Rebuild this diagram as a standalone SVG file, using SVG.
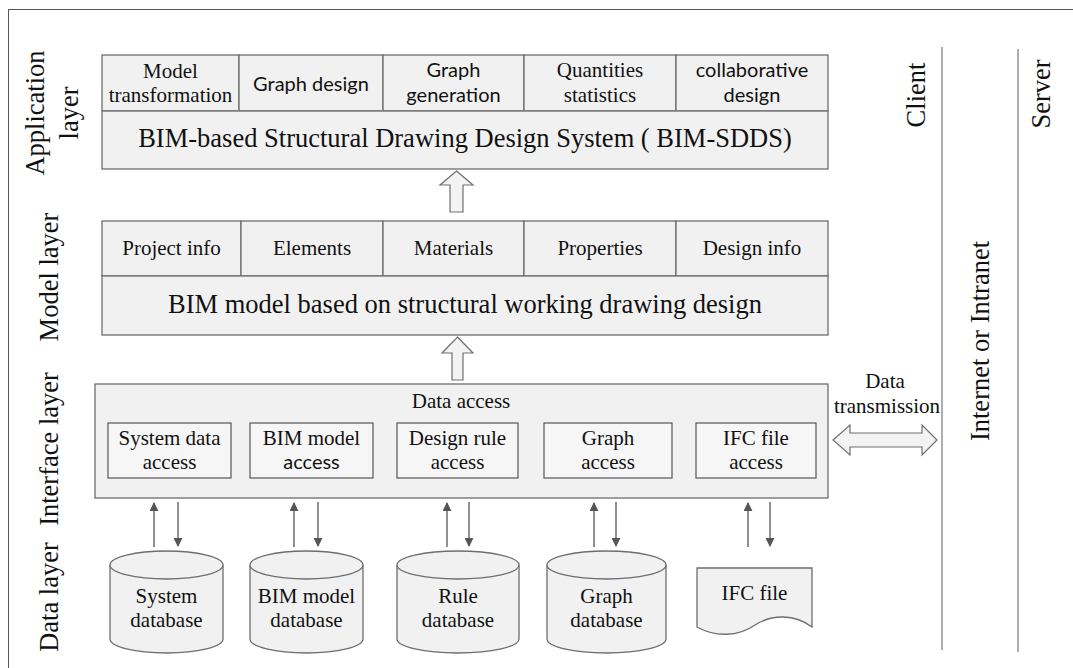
<svg xmlns="http://www.w3.org/2000/svg" width="1073" height="668" viewBox="0 0 1073 668">
<defs>
<style>
.box{fill:#f1f1f1;stroke:#6e6e6e;stroke-width:1.3}
.ibox{fill:#f6f6f6;stroke:#555;stroke-width:1.2}
.blk{fill:#f3f3f3;stroke:#6e6e6e;stroke-width:1.2}
.s{font-family:"Liberation Serif","Times New Roman",Times,serif;fill:#111}
.ss{font-family:Lato,"Liberation Sans",sans-serif;fill:#111;font-size:20px}
.big{font-size:26.5px}
.sm{font-size:21px}
.m{text-anchor:middle}
.vl{stroke:#9a9a9a;stroke-width:1.6;fill:none}
.ar{stroke:#555;stroke-width:1.3;fill:none}
</style>
<marker id="ah" viewBox="0 0 10 10" refX="9" refY="5" markerWidth="9" markerHeight="9" markerUnits="userSpaceOnUse" orient="auto">
<path d="M0,0 L10,5 L0,10 Z" fill="#555"/>
</marker>
</defs>
<rect x="0" y="0" width="1073" height="668" fill="#fff"/>
<rect x="8.5" y="9.5" width="1080" height="680" fill="none" stroke="#555" stroke-width="1"/>

<g id="labels">
<text class="s big m" transform="translate(44,113) rotate(-90)">Application</text>
<text class="s big m" transform="translate(78,113) rotate(-90)">layer</text>
<text class="s big m" transform="translate(58,277) rotate(-90)">Model layer</text>
<text class="s big m" transform="translate(58,449) rotate(-90)">Interface layer</text>
<text class="s big m" transform="translate(58,597) rotate(-90)">Data layer</text>
<text class="s big m" transform="translate(925,95) rotate(-90)">Client</text>
<text class="s big m" transform="translate(1050,94) rotate(-90)">Server</text>
<text class="s big m" transform="translate(989,341) rotate(-90)">Internet or Intranet</text>
</g>

<g id="separators">
<line class="vl" x1="942" y1="47" x2="942" y2="650"/>
<line class="vl" x1="1018" y1="49" x2="1018" y2="652"/>
</g>

<g id="application-layer">
<rect class="box" x="102" y="55" width="137" height="56"/>
<rect class="box" x="239" y="55" width="144" height="56"/>
<rect class="box" x="383" y="55" width="141" height="56"/>
<rect class="box" x="524" y="55" width="152" height="56"/>
<rect class="box" x="676" y="55" width="152" height="56"/>
<rect class="box" x="102" y="111" width="726" height="58"/>
<text class="s sm m" x="170.5" y="78">Model</text>
<text class="s sm m" x="170.5" y="102">transformation</text>
<text class="ss m" x="311" y="91">Graph design</text>
<text class="ss m" x="453.5" y="77">Graph</text>
<text class="ss m" x="453.5" y="102">generation</text>
<text class="s sm m" x="600" y="77">Quantities</text>
<text class="s sm m" x="600" y="102">statistics</text>
<text class="ss m" x="752" y="77">collaborative</text>
<text class="ss m" x="752" y="102">design</text>
<text class="s big m" x="465" y="147">BIM-based Structural Drawing Design System ( BIM-SDDS)</text>
</g>

<g id="model-layer">
<rect class="box" x="102" y="221" width="139" height="55"/>
<rect class="box" x="241" y="221" width="142" height="55"/>
<rect class="box" x="383" y="221" width="141" height="55"/>
<rect class="box" x="524" y="221" width="152" height="55"/>
<rect class="box" x="676" y="221" width="152" height="55"/>
<rect class="box" x="102" y="276" width="726" height="59"/>
<text class="s sm m" x="171.5" y="255">Project info</text>
<text class="s sm m" x="312" y="255">Elements</text>
<text class="s sm m" x="453.5" y="255">Materials</text>
<text class="s sm m" x="600" y="255">Properties</text>
<text class="s sm m" x="752" y="255">Design info</text>
<text class="s big m" x="465" y="313">BIM model based on structural working drawing design</text>
</g>

<g id="interface-layer">
<rect class="box" x="95" y="384" width="733" height="114"/>
<text class="s sm m" x="461" y="408">Data access</text>
<rect class="ibox" x="108" y="423" width="123" height="55"/>
<rect class="ibox" x="250" y="423" width="123" height="55"/>
<rect class="ibox" x="397" y="423" width="121" height="55"/>
<rect class="ibox" x="544" y="423" width="128" height="55"/>
<rect class="ibox" x="696" y="423" width="120" height="55"/>
<text class="s sm m" x="169.5" y="445">System data</text>
<text class="s sm m" x="169.5" y="469">access</text>
<text class="s sm m" x="311.5" y="445">BIM model</text>
<text class="ss m" x="311.5" y="469">access</text>
<text class="s sm m" x="457.5" y="445">Design rule</text>
<text class="s sm m" x="457.5" y="469">access</text>
<text class="s sm m" x="608" y="445">Graph</text>
<text class="s sm m" x="608" y="469">access</text>
<text class="s sm m" x="756" y="445">IFC file</text>
<text class="s sm m" x="756" y="469">access</text>
</g>

<g id="data-transmission">
<text class="s sm m" x="885" y="388">Data</text>
<text class="s sm m" x="887" y="413">transmission</text>
<path class="blk" d="M833,440 L850,425 L850,433 L922,433 L922,425 L937,440 L922,455 L922,447 L850,447 L850,455 Z"/>
</g>

<g id="system-database">
<path class="box" d="M110,565 V639 A56.5,14 0 0 0 223,639 V565"/>
<ellipse class="box" cx="166.5" cy="565" rx="56.5" ry="14"/>
<text class="s sm m" x="166.5" y="603">System</text>
<text class="s sm m" x="166.5" y="627">database</text>
</g>
<g id="bim-model-database">
<path class="box" d="M250,565 V639 A56.5,14 0 0 0 363,639 V565"/>
<ellipse class="box" cx="306.5" cy="565" rx="56.5" ry="14"/>
<text class="s sm m" x="306.5" y="603">BIM model</text>
<text class="s sm m" x="306.5" y="627">database</text>
</g>
<g id="rule-database">
<path class="box" d="M397,565 V639 A61,14 0 0 0 519,639 V565"/>
<ellipse class="box" cx="458" cy="565" rx="61" ry="14"/>
<text class="s sm m" x="458" y="603">Rule</text>
<text class="s sm m" x="458" y="627">database</text>
</g>
<g id="graph-database">
<path class="box" d="M547,565 V639 A59.5,14 0 0 0 666,639 V565"/>
<ellipse class="box" cx="606.5" cy="565" rx="59.5" ry="14"/>
<text class="s sm m" x="606.5" y="603">Graph</text>
<text class="s sm m" x="606.5" y="627">database</text>
</g>
<g id="ifc-file">
<path class="box" d="M697,568 H812 V627 C795,614 772,614 755,625 C738,637 715,637 697,627 Z"/>
<text class="s sm m" x="754.5" y="600">IFC file</text>
</g>

<g id="connectors">
<path class="blk" d="M456.5,171 L473,185 L463,185 L463,212 L450,212 L450,185 L440,185 Z"/>
<path class="blk" d="M457.5,337 L473,353 L463,353 L463,380 L452,380 L452,353 L442,353 Z"/>
<line class="ar" x1="154" y1="547" x2="154" y2="503" marker-end="url(#ah)"/>
<line class="ar" x1="178" y1="502" x2="178" y2="546" marker-end="url(#ah)"/>
<line class="ar" x1="294" y1="547" x2="294" y2="503" marker-end="url(#ah)"/>
<line class="ar" x1="318" y1="502" x2="318" y2="546" marker-end="url(#ah)"/>
<line class="ar" x1="447" y1="547" x2="447" y2="503" marker-end="url(#ah)"/>
<line class="ar" x1="469" y1="502" x2="469" y2="546" marker-end="url(#ah)"/>
<line class="ar" x1="594" y1="547" x2="594" y2="503" marker-end="url(#ah)"/>
<line class="ar" x1="616" y1="502" x2="616" y2="546" marker-end="url(#ah)"/>
<line class="ar" x1="748" y1="547" x2="748" y2="503" marker-end="url(#ah)"/>
<line class="ar" x1="770" y1="502" x2="770" y2="546" marker-end="url(#ah)"/>
</g>
</svg>
